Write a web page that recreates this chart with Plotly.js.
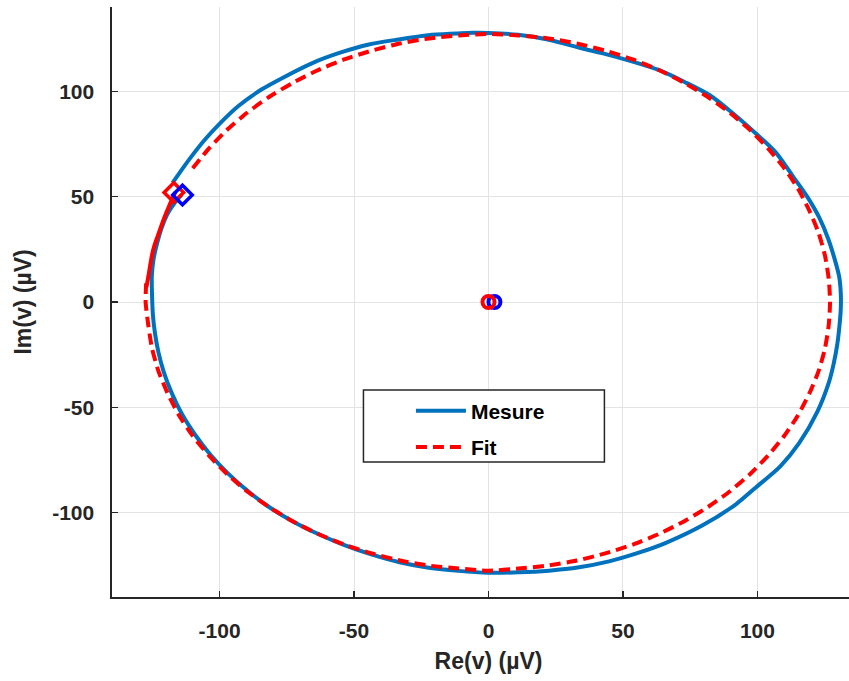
<!DOCTYPE html>
<html>
<head>
<meta charset="utf-8">
<script src="https://cdn.plot.ly/plotly-3.0.1.min.js"></script>
<style>
html,body{margin:0;padding:0;overflow:hidden;background:#fff;width:849px;height:681px;}
#chart{width:866px;height:681px;}
</style>
</head>
<body>
<div id="chart"></div>
<script>
const measureRe = [-117.5,-114.5,-110.5,-105.5,-100.3,-93,-84.6,-75.2,-65.5,-55.2,-44.5,-33.4,-22.4,-12,-6,0,11,22,34.6,42.9,53.3,63.5,73.1,82.3,89.5,99.4,106.8,113,118.5,123,126.3,128.8,130.4,131,131,130.6,129.7,128.4,126.6,122.3,115.5,108.5,99.4,92,79.6,66,55.6,44.8,33.7,22.5,11.2,0,-11.2,-22.2,-33.1,-43.6,-53.8,-63.5,-72.9,-81.6,-89.6,-96.9,-103.4,-109.1,-114,-117.9,-120.8,-122.7,-124,-124.8,-125.1,-125.2,-124.6,-123.4,-121.6,-119.5,-117,-114];
const measureIm = [56.5,62,69,77,84.2,93,100.7,107.3,113.4,118.3,122.2,124.6,126.6,127.4,127.8,127.7,126.8,124.6,120.4,117.9,114.2,110,104.3,98.1,91,80,71,60,50,40,30,20,12,4,-3,-10,-20,-29,-38,-52,-67,-78,-88,-96,-106,-114.3,-119.1,-123.1,-125.9,-127.5,-128.3,-128.5,-127.6,-126.1,-123.5,-119.8,-115.3,-110,-104,-97.3,-89.6,-81.3,-72.5,-63,-53.2,-42.9,-33,-24,-15,-6,3,12,20,27,35,41.5,46.5,51];

// Fit circle (dashed part)
const fitRe = [-110,-104,-97.3,-89.8,-81.6,-72.8,-63.5,-53.7,-43.4,-32.9,-22.1,-11.1,0,11.1,22.1,32.9,43.4,53.7,63.5,72.8,81.6,89.8,97.3,104,110,115.1,119.3,122.7,125.1,126.5,127,126.5,125.1,122.7,119.3,115.1,110,104,97.3,89.8,81.6,72.8,63.5,53.7,43.4,32.9,22.1,11.1,0,-11.1,-22.1,-32.9,-43.4,-53.7,-63.5,-72.8,-81.6,-89.8,-97.3,-104,-110,-115.1,-119.3,-122.7,-125.1,-126.5,-127.5,-127.3];
const fitIm = [63.5,72.8,81.6,89.8,97.3,104,110,115.1,119.3,122.7,125.1,126.5,127.2,126.5,125.1,122.7,119.3,115.1,110,104,97.3,89.8,81.6,72.8,63.5,53.7,43.4,32.9,22.1,11.1,0,-11.1,-22.1,-32.9,-43.4,-53.7,-63.5,-72.8,-81.6,-89.8,-97.3,-104,-110,-115.1,-119.3,-122.7,-125.1,-126.5,-127.5,-126.5,-125.1,-122.7,-119.3,-115.1,-110,-104,-97.3,-89.8,-81.6,-72.8,-63.5,-53.7,-43.4,-32.9,-22.1,-11.1,0,8.9];

// Fit solid segment
const fitSolidRe = [-116.5,-118.6,-120.4,-122.8,-124.7,-126.5,-127.2];
const fitSolidIm = [52,46,40.5,32,24.7,12,7];

// Markers
const centerMeasure = {re:[2.2], im:[0]};
const centerFit = {re:[0], im:[0]};
const startFit = {re:[-117], im:[52]};
const startMeasure = {re:[-113.8], im:[50.8]};

const tickVals = [-100,-50,0,50,100];
const tickText = ['-100','-50','0','50','100'];

const FONT = 'Liberation Sans, Arial, Helvetica, sans-serif';
const BLUE = '#0072BD';
const RED = '#FF0000';
const TXT = '#262626';

const traces = [
  {x:measureRe, y:measureIm, type:'scatter', mode:'lines', name:'Mesure', legendgroup:'a',
   line:{color:BLUE, width:4, shape:'spline', smoothing:0.8}},
  {x:fitRe, y:fitIm, type:'scatter', mode:'lines', name:'Fit', legendgroup:'b',
   line:{color:RED, width:4, dash:'11px,6px', shape:'spline', smoothing:0.6}},
  {x:fitSolidRe, y:fitSolidIm, type:'scatter', mode:'lines', showlegend:false,
   line:{color:RED, width:4, shape:'spline'}},
  {x:centerMeasure.re, y:centerMeasure.im, type:'scatter', mode:'markers', showlegend:false,
   marker:{symbol:'circle-open', size:12, color:'#0000FF', line:{width:4, color:'#0000FF'}}},
  {x:centerFit.re, y:centerFit.im, type:'scatter', mode:'markers', showlegend:false,
   marker:{symbol:'circle-open', size:12, color:RED, line:{width:4, color:RED}}},
  {x:startFit.re, y:startFit.im, type:'scatter', mode:'markers', showlegend:false,
   marker:{symbol:'diamond-open', size:15, color:RED, line:{width:3.5, color:RED}}},
  {x:startMeasure.re, y:startMeasure.im, type:'scatter', mode:'markers', showlegend:false,
   marker:{symbol:'diamond-open', size:15, color:'#0000FF', line:{width:3.5, color:'#0000FF'}}}
];

const axisCommon = {
  showgrid:true, gridcolor:'#e3e3e3', gridwidth:1,
  zeroline:false, showline:true, linecolor:TXT, linewidth:1.6,
  ticks:'inside', ticklen:6, tickwidth:1.5, tickcolor:TXT,
  tickmode:'array', tickvals:tickVals, ticktext:tickText,
  tickfont:{family:FONT, size:21, color:TXT, weight:'bold'},
  mirror:false, fixedrange:true
};

const layout = {
  width:866, height:681,
  margin:{l:112, r:1, t:7, b:84},
  paper_bgcolor:'#fff', plot_bgcolor:'#fff',
  font:{family:FONT, color:TXT},
  xaxis:Object.assign({}, axisCommon, {
    range:[-140,140], ticklabelstandoff:14,
    title:{text:'Re(v) (µV)', font:{family:FONT, size:23, color:TXT, weight:'bold'}, standoff:12}
  }),
  yaxis:Object.assign({}, axisCommon, {
    range:[-140,140], ticklabelstandoff:12,
    title:{text:'Im(v) (µV)', font:{family:FONT, size:23, color:TXT, weight:'bold'}, standoff:14}
  }),
  showlegend:true,
  legend:{x:0.397, y:0.35, xanchor:'left', yanchor:'top',
    bgcolor:'rgba(0,0,0,0)', borderwidth:0, itemwidth:50,
    traceorder:'grouped', tracegroupgap:6,
    font:{family:FONT, size:21, color:'#000', weight:'bold'}},
  shapes:[{type:'rect', xref:'x', yref:'y', x0:-46.5, x1:43.1, y0:-75.9, y1:-41.8,
    line:{color:TXT, width:1.5}, fillcolor:'#fff', layer:'above'}]
};

Plotly.newPlot('chart', traces, layout, {displayModeBar:false, staticPlot:true});
</script>
</body>
</html>
